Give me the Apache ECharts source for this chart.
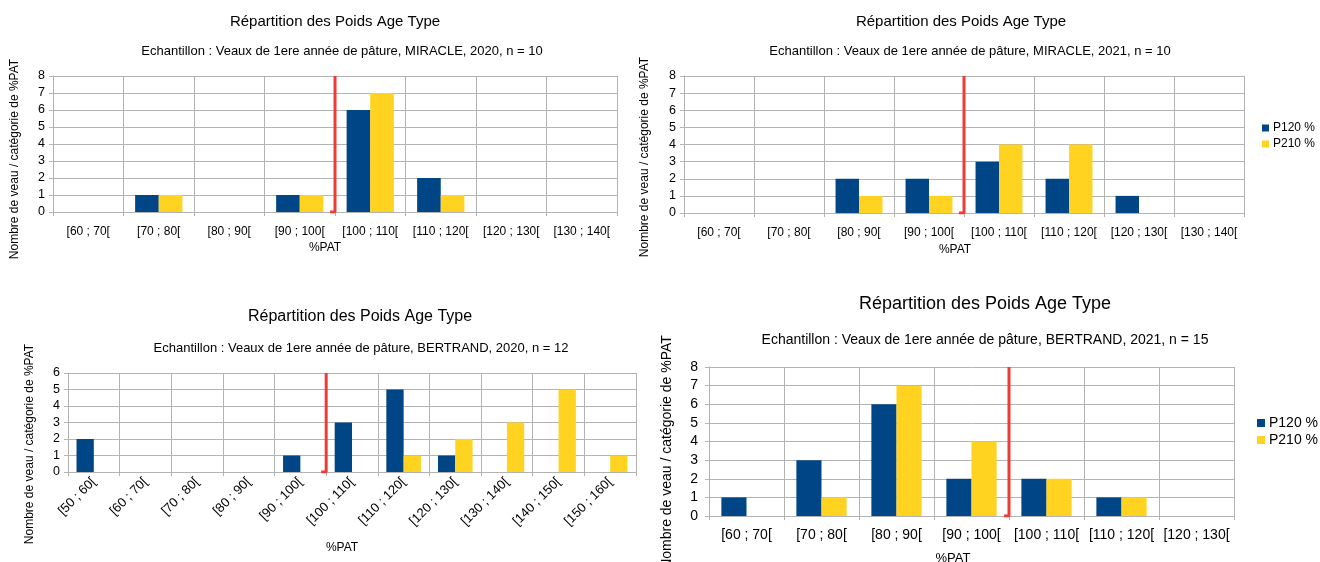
<!DOCTYPE html>
<html>
<head>
<meta charset="utf-8">
<script src="https://cdn.jsdelivr.net/npm/echarts@6/dist/echarts.min.js"></script>
<style>
html,body{margin:0;padding:0;background:#fff;}
#c{width:1320px;height:562px;}
</style>
</head>
<body>
<div id="c"></div>
<script>
// ---------- DATA ----------
const mainTitle = 'Répartition des Poids Age Type';
const subTitles = [
  'Echantillon : Veaux de 1ere année de pâture, MIRACLE, 2020, n = 10',
  'Echantillon : Veaux de 1ere année de pâture, MIRACLE, 2021, n = 10',
  'Echantillon : Veaux de 1ere année de pâture, BERTRAND, 2020, n = 12',
  'Echantillon : Veaux de 1ere année de pâture, BERTRAND, 2021, n = 15'
];
const yAxisTitle = 'Nombre de veau / catégorie de %PAT';
const xAxisTitle = '%PAT';
const seriesNames = ['P120 %', 'P210 %'];

const cats8 = ['[60 ; 70[', '[70 ; 80[', '[80 ; 90[', '[90 ; 100[', '[100 ; 110[', '[110 ; 120[', '[120 ; 130[', '[130 ; 140['];
const cats11 = ['[50 ; 60[', '[60 ; 70[', '[70 ; 80[', '[80 ; 90[', '[90 ; 100[', '[100 ; 110[', '[110 ; 120[', '[120 ; 130[', '[130 ; 140[', '[140 ; 150[', '[150 ; 160['];
const cats7 = ['[60 ; 70[', '[70 ; 80[', '[80 ; 90[', '[90 ; 100[', '[100 ; 110[', '[110 ; 120[', '[120 ; 130['];

const miracle2020_P120 = [0, 1, 0, 1, 6, 2, 0, 0];
const miracle2020_P210 = [0, 1, 0, 1, 7, 1, 0, 0];
const miracle2021_P120 = [0, 0, 2, 2, 3, 2, 1, 0];
const miracle2021_P210 = [0, 0, 1, 1, 4, 4, 0, 0];
const bertrand2020_P120 = [2, 0, 0, 0, 1, 3, 5, 1, 0, 0, 0];
const bertrand2020_P210 = [0, 0, 0, 0, 0, 0, 1, 2, 3, 5, 1];
const bertrand2021_P120 = [1, 3, 6, 2, 2, 1, 0];
const bertrand2021_P210 = [0, 1, 7, 4, 2, 1, 0];

const yMax = [8, 8, 6, 8];
// 100 %PAT threshold, as a category-boundary index
const threshold100 = [4, 4, 5, 4];

// ---------- LAYOUT / STYLE ----------
const FONT = '"Liberation Sans", Arial, sans-serif';
const BLUE = '#004586', YELLOW = '#ffd320', RED = '#ef3b33', GRID = '#b3b3b3';

const charts = [
  {cats: cats8, a: miracle2020_P120, b: miracle2020_P210,
   grid: {left: 53, top: 76, width: 564, height: 136},
   tick: 12, ytick: 12.5, rot: 0, lblMargin: 14,
   title: {x: 335, y: 22, fs: 15}, sub: {x: 342, y: 51, fs: 13},
   ylab: {x: 15, y: 159, fs: 12}, xlab: {x: 325, y: 248, fs: 12}},
  {cats: cats8, a: miracle2021_P120, b: miracle2021_P210,
   grid: {left: 684, top: 76, width: 560, height: 137},
   tick: 12, ytick: 12.5, rot: 0, lblMargin: 14,
   title: {x: 961, y: 22, fs: 15}, sub: {x: 970, y: 51, fs: 13},
   ylab: {x: 645, y: 157, fs: 12}, xlab: {x: 955, y: 250, fs: 12},
   legend: {left: 1262, top: 122, icon: 7, fs: 12, gap: 4}},
  {cats: cats11, a: bertrand2020_P120, b: bertrand2020_P210,
   grid: {left: 68, top: 373, width: 568, height: 99},
   tick: 13, ytick: 12.5, rot: 45, lblMargin: 8,
   title: {x: 360, y: 317, fs: 16}, sub: {x: 361, y: 348, fs: 13},
   ylab: {x: 30, y: 444, fs: 12}, xlab: {x: 342, y: 548, fs: 12}},
  {cats: cats7, a: bertrand2021_P120, b: bertrand2021_P210,
   grid: {left: 709, top: 367, width: 525, height: 149},
   tick: 14, ytick: 14, rot: 0, lblMargin: 12,
   title: {x: 985, y: 304, fs: 18}, sub: {x: 985, y: 340, fs: 14},
   ylab: {x: 667, y: 452, fs: 14}, xlab: {x: 953, y: 558, fs: 13},
   legend: {left: 1257, top: 416, icon: 8, fs: 14, gap: 3}}
];

const grids = [], xAxes = [], yAxes = [], series = [], legends = [], graphics = [];

charts.forEach((c, i) => {
  grids.push(Object.assign({containLabel: false}, c.grid));
  // category axis
  xAxes.push({
    type: 'category', gridIndex: i, data: c.cats,
    axisLine: {show: true, lineStyle: {color: GRID}},
    axisTick: {show: true, length: 4, interval: 0, lineStyle: {color: GRID}},
    splitLine: {show: true, interval: 0, lineStyle: {color: GRID, width: 1}},
    axisLabel: {interval: 0, rotate: c.rot, margin: c.lblMargin, color: '#000',
                fontFamily: FONT, fontSize: c.tick}
  });
  // hidden value axis used to place the 100 % threshold line
  xAxes.push({
    type: 'value', gridIndex: i, min: 0, max: c.cats.length, show: false
  });
  yAxes.push({
    type: 'value', gridIndex: i, min: 0, max: yMax[i], interval: 1,
    axisLine: {show: true, lineStyle: {color: GRID}},
    axisTick: {show: true, length: 4, lineStyle: {color: GRID}},
    splitLine: {show: true, lineStyle: {color: GRID, width: 1}},
    axisLabel: {margin: c.ytick > 13 ? 11 : 8, color: '#000', fontFamily: FONT, fontSize: c.ytick}
  });
  series.push({
    name: seriesNames[0], type: 'bar', xAxisIndex: 2 * i, yAxisIndex: i,
    data: c.a, itemStyle: {color: BLUE}, barGap: '0%', barCategoryGap: '33%',
    emphasis: {disabled: true}
  });
  series.push({
    name: seriesNames[1], type: 'bar', xAxisIndex: 2 * i, yAxisIndex: i,
    data: c.b, itemStyle: {color: YELLOW}, barGap: '0%', barCategoryGap: '33%',
    emphasis: {disabled: true}
  });
  const catW = c.grid.width / c.cats.length;
  const foot = 5 / catW;
  const t = threshold100[i];
  series.push({
    name: 'seuil', type: 'line', xAxisIndex: 2 * i + 1, yAxisIndex: i,
    data: [[t - foot, 0], [t, 0], [t, yMax[i]]],
    symbol: 'none', lineStyle: {color: RED, width: 3}, silent: true, z: 5
  });
  if (c.legend) {
    legends.push({
      data: seriesNames, orient: 'vertical', left: c.legend.left, top: c.legend.top,
      icon: 'rect', itemWidth: c.legend.icon, itemHeight: c.legend.icon,
      itemGap: c.legend.gap, padding: 0,
      textStyle: {fontFamily: FONT, fontSize: c.legend.fs, color: '#000', padding: [0, 0, 0, -1]},
      selectedMode: false
    });
  }
  graphics.push({type: 'text', x: c.title.x, y: c.title.y,
    style: {text: mainTitle, align: 'center', verticalAlign: 'middle',
            font: c.title.fs + 'px ' + FONT, fill: '#000'}});
  graphics.push({type: 'text', x: c.sub.x, y: c.sub.y,
    style: {text: subTitles[i], align: 'center', verticalAlign: 'middle',
            font: c.sub.fs + 'px ' + FONT, fill: '#000'}});
  graphics.push({type: 'text', x: c.ylab.x, y: c.ylab.y, rotation: Math.PI / 2,
    style: {text: yAxisTitle, align: 'center', verticalAlign: 'middle',
            font: c.ylab.fs + 'px ' + FONT, fill: '#000'}});
  graphics.push({type: 'text', x: c.xlab.x, y: c.xlab.y,
    style: {text: xAxisTitle, align: 'center', verticalAlign: 'middle',
            font: c.xlab.fs + 'px ' + FONT, fill: '#000'}});
});

const chart = echarts.init(document.getElementById('c'), null, {renderer: 'canvas'});
chart.setOption({
  animation: false,
  backgroundColor: '#fff',
  grid: grids, xAxis: xAxes, yAxis: yAxes, series: series,
  legend: legends, graphic: graphics
});
</script>
</body>
</html>
